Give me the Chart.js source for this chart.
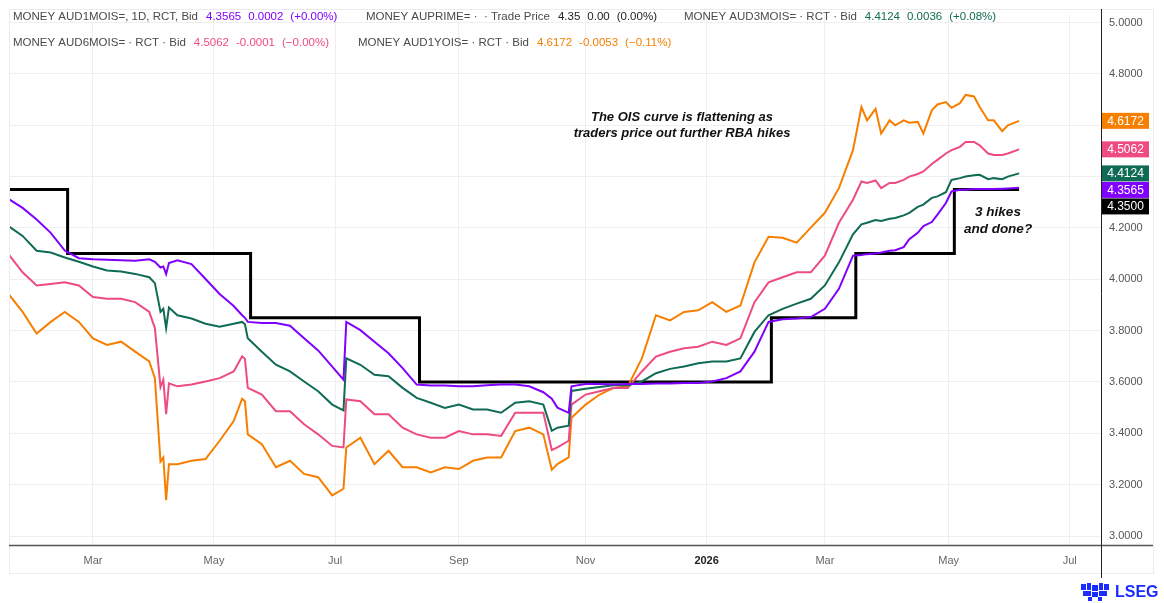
<!DOCTYPE html>
<html>
<head>
<meta charset="utf-8">
<script src="https://cdn.jsdelivr.net/npm/chart.js@4.4.1/dist/chart.umd.min.js"></script>
<style>
  html, body { margin: 0; padding: 0; background: #fff; }
  #wrap { position: relative; width: 1164px; height: 603px; }
  #logo { position: absolute; left: 1080px; top: 582px; }
</style>
</head>
<body>
<div id="wrap">
  <canvas id="myChart" width="1164" height="603"></canvas>
  <svg id="logo" width="30" height="20" viewBox="0 0 30 20">
    <g fill="#1a2cff">
      <rect x="1" y="2" width="5" height="6"/><rect x="7" y="1" width="4" height="7"/>
      <rect x="12" y="3" width="6" height="6"/><rect x="19" y="1" width="4" height="7"/>
      <rect x="24" y="2" width="5" height="6"/><rect x="3" y="9" width="8" height="5"/>
      <rect x="12" y="10" width="6" height="5"/><rect x="19" y="9" width="8" height="5"/>
      <rect x="8" y="15" width="4" height="4"/><rect x="18" y="15" width="4" height="4"/>
    </g>
  </svg>
</div>
<script>
'use strict'

// weekly samples (plus extra days around the big moves and in the last stretch)
let dates = ['2025-01-20', '2025-01-27', '2025-02-03', '2025-02-10', '2025-02-17', '2025-02-24',
    '2025-03-03', '2025-03-10', '2025-03-17', '2025-03-24', '2025-03-31', '2025-04-02', '2025-04-04',
    '2025-04-07', '2025-04-08', '2025-04-09', '2025-04-14', '2025-04-21', '2025-04-28', '2025-05-05',
    '2025-05-12', '2025-05-15', '2025-05-16', '2025-05-19', '2025-05-26', '2025-06-02', '2025-06-09',
    '2025-06-16', '2025-06-23', '2025-06-30', '2025-07-04', '2025-07-07', '2025-07-14', '2025-07-21',
    '2025-07-28', '2025-08-04', '2025-08-11', '2025-08-18', '2025-08-25', '2025-09-01', '2025-09-08',
    '2025-09-15', '2025-09-22', '2025-09-29', '2025-10-06', '2025-10-13', '2025-10-16', '2025-10-20',
    '2025-10-24', '2025-10-27', '2025-11-03', '2025-11-10', '2025-11-17', '2025-11-24', '2025-12-01',
    '2025-12-08', '2025-12-15', '2025-12-22', '2025-12-29', '2026-01-05', '2026-01-12', '2026-01-19',
    '2026-01-26', '2026-02-02', '2026-02-09', '2026-02-16', '2026-02-23', '2026-03-02', '2026-03-09',
    '2026-03-16', '2026-03-19', '2026-03-23', '2026-03-26', '2026-03-30', '2026-04-02', '2026-04-06',
    '2026-04-09', '2026-04-13', '2026-04-16', '2026-04-20', '2026-04-23', '2026-04-27', '2026-04-30',
    '2026-05-04', '2026-05-07', '2026-05-11', '2026-05-14', '2026-05-18', '2026-05-21', '2026-05-25',
    '2026-05-28', '2026-06-01', '2026-06-05'];

let aud1m = [4.313, 4.278, 4.233, 4.181, 4.112, 4.082, 4.078, 4.076, 4.074, 4.072, 4.078, 4.068, 4.046,
    4.050, 4.020, 4.063, 4.074, 4.059, 4.001, 3.943, 3.896, 3.860, 3.850, 3.834, 3.830, 3.830, 3.819,
    3.770, 3.723, 3.660, 3.609, 3.834, 3.802, 3.757, 3.712, 3.654, 3.590, 3.586, 3.586, 3.583, 3.583,
    3.587, 3.590, 3.590, 3.583, 3.560, 3.535, 3.500, 3.480, 3.583, 3.592, 3.592, 3.590, 3.592, 3.592,
    3.594, 3.594, 3.596, 3.596, 3.602, 3.615, 3.641, 3.718, 3.834, 3.844, 3.847, 3.853, 3.885, 3.963,
    4.092, 4.095, 4.098, 4.100, 4.104, 4.111, 4.113,
    4.125, 4.156, 4.181, 4.207, 4.223, 4.252, 4.297,
    4.342, 4.349, 4.349, 4.352, 4.352, 4.352, 4.352,
    4.353, 4.354, 4.3565];

let aud3m = [4.207, 4.169, 4.111, 4.104, 4.085, 4.068, 4.050, 4.034, 4.030, 4.021, 4.008, 3.985, 3.873,
    3.885, 3.810, 3.890, 3.860, 3.847, 3.827, 3.815, 3.827, 3.834, 3.825, 3.770, 3.718, 3.667, 3.641,
    3.602, 3.564, 3.512, 3.489, 3.692, 3.667, 3.628, 3.622, 3.577, 3.538, 3.519, 3.499, 3.512, 3.493,
    3.493, 3.480, 3.519, 3.525, 3.512, 3.410, 3.422, 3.430, 3.565, 3.574, 3.580, 3.587, 3.587, 3.602,
    3.634, 3.651, 3.660, 3.673, 3.680, 3.680, 3.692, 3.795, 3.860, 3.885, 3.905, 3.924, 3.976, 4.066,
    4.175, 4.214, 4.220, 4.231, 4.227, 4.236, 4.239,
    4.249, 4.259, 4.282, 4.291, 4.317, 4.323, 4.339,
    4.387, 4.394, 4.400, 4.405, 4.407, 4.390, 4.394,
    4.390, 4.400, 4.4124];

let aud6m = [4.098, 4.027, 3.976, 3.982, 3.988, 3.976, 3.931, 3.924, 3.924, 3.911, 3.873, 3.810, 3.580,
    3.609, 3.475, 3.595, 3.583, 3.590, 3.602, 3.615, 3.641, 3.700, 3.690, 3.577, 3.551, 3.486, 3.486,
    3.435, 3.396, 3.351, 3.345, 3.532, 3.525, 3.474, 3.474, 3.422, 3.396, 3.383, 3.383, 3.409, 3.396,
    3.396, 3.390, 3.480, 3.480, 3.480, 3.335, 3.345, 3.371, 3.512, 3.551, 3.564, 3.577, 3.577, 3.641,
    3.699, 3.718, 3.731, 3.737, 3.757, 3.744, 3.770, 3.911, 3.988, 4.008, 4.027, 4.027, 4.092, 4.220,
    4.310, 4.381, 4.375, 4.385, 4.355, 4.375, 4.375,
    4.387, 4.400, 4.410, 4.420, 4.449, 4.465, 4.490,
    4.503, 4.516, 4.535, 4.535, 4.522, 4.490, 4.484,
    4.484, 4.490, 4.5062];

let aud1y = [3.943, 3.873, 3.789, 3.834, 3.873, 3.834, 3.770, 3.744, 3.757, 3.718, 3.680, 3.615, 3.290,
    3.306, 3.140, 3.280, 3.280, 3.293, 3.300, 3.371, 3.448, 3.535, 3.525, 3.396, 3.358, 3.268, 3.293,
    3.242, 3.229, 3.158, 3.184, 3.345, 3.383, 3.280, 3.332, 3.268, 3.268, 3.248, 3.268, 3.261, 3.293,
    3.306, 3.306, 3.409, 3.422, 3.396, 3.258, 3.280, 3.306, 3.461, 3.512, 3.551, 3.577, 3.583, 3.692,
    3.860, 3.840, 3.873, 3.879, 3.911, 3.873, 3.898, 4.066, 4.166, 4.162, 4.143, 4.201, 4.259, 4.355,
    4.503, 4.671, 4.619, 4.664, 4.568, 4.619, 4.600,
    4.619, 4.610, 4.613, 4.568, 4.658, 4.681, 4.690,
    4.668, 4.686, 4.718, 4.712, 4.671, 4.619, 4.619,
    4.577, 4.600, 4.6172];

// RBA cash rate (AUPRIME) steps
let cashDates = ['2025-01-20', '2025-02-18', '2025-05-20', '2025-08-12', '2026-02-03', '2026-03-17', '2026-05-05', '2026-06-05'];
let cashRate = [4.35, 4.10, 3.85, 3.60, 3.85, 4.10, 4.35, 4.35];

let monthTicks = ['2025-03-01', '2025-05-01', '2025-07-01', '2025-09-01', '2025-11-01', '2026-01-01', '2026-03-01', '2026-05-01', '2026-07-01'];
let monthLabels = ['Mar', 'May', 'Jul', 'Sep', 'Nov', '2026', 'Mar', 'May', 'Jul'];
let yTicks = [3.0, 3.2, 3.4, 3.6, 3.8, 4.0, 4.2, 4.4, 4.6, 4.8, 5.0];

let purple = '#8000ff';
let green = '#0f6b55';
let pink = '#ee4b80';
let orange = '#f77f00';

// trading-day index counted from the first date
function bday(s) {
    let d0 = Date.UTC(2025, 0, 20);
    let p = s.split('-').map(Number);
    let t = Date.UTC(p[0], p[1] - 1, p[2]);
    let n = 0;
    for (let x = d0; x < t; x += 86400000) {
        let w = new Date(x).getUTCDay();
        if (w !== 0 && w !== 6) n++;
    }
    return n;
}

function pts(vals, ds) {
    return vals.map((v, i) => ({ x: bday(ds[i]), y: v }));
}

let tickPos = monthTicks.map(bday);

function line(label, vals, color) {
    return {
        label: label,
        data: pts(vals, dates),
        borderColor: color,
        borderWidth: 2,
        pointRadius: 0,
        tension: 0,
        fill: false
    };
}

let overlay = {
    id: 'overlay',
    afterDraw(chart) {
        let ctx = chart.ctx;
        let ys = chart.scales.y;
        ctx.save();

        // frame and axis lines
        ctx.strokeStyle = '#ececec';
        ctx.lineWidth = 1;
        ctx.strokeRect(9.5, 9.5, 1144, 564);
        ctx.strokeStyle = '#555';
        ctx.lineWidth = 1.5;
        ctx.beginPath();
        ctx.moveTo(9, 545.5);
        ctx.lineTo(1153, 545.5);
        ctx.stroke();
        ctx.strokeStyle = '#222';
        ctx.lineWidth = 1;
        ctx.beginPath();
        ctx.moveTo(1101.5, 9);
        ctx.lineTo(1101.5, 578);
        ctx.stroke();

        // legend rows
        ctx.textBaseline = 'middle';
        ctx.textAlign = 'left';
        ctx.font = '11.5px "Liberation Sans", Arial, sans-serif';
        let rows = [
            [13, 17, 'MONEY AUD1MOIS=, 1D, RCT, Bid', ['4.3565', '0.0002', '(+0.00%)'], purple],
            [366, 17, 'MONEY AUPRIME= \u00b7  \u00b7 Trade Price', ['4.35', '0.00', '(0.00%)'], '#222'],
            [684, 17, 'MONEY AUD3MOIS= \u00b7 RCT \u00b7 Bid', ['4.4124', '0.0036', '(+0.08%)'], green],
            [13, 43, 'MONEY AUD6MOIS= \u00b7 RCT \u00b7 Bid', ['4.5062', '-0.0001', '(\u22120.00%)'], pink],
            [358, 43, 'MONEY AUD1YOIS= \u00b7 RCT \u00b7 Bid', ['4.6172', '-0.0053', '(\u22120.11%)'], orange]
        ];
        rows.forEach(r => {
            let x = r[0];
            ctx.fillStyle = '#4a4a4a';
            ctx.fillText(r[2], x, r[1]);
            x += ctx.measureText(r[2]).width + 8;
            ctx.fillStyle = r[4];
            r[3].forEach(t => {
                ctx.fillText(t, x, r[1]);
                x += ctx.measureText(t).width + 7;
            });
        });

        // annotations
        ctx.fillStyle = '#111';
        ctx.textAlign = 'center';
        ctx.font = 'italic bold 13px "Liberation Sans", Arial, sans-serif';
        ctx.fillText('The OIS curve is flattening as', 682, 117);
        ctx.fillText('traders price out further RBA hikes', 682, 133);
        ctx.font = 'italic bold 13.5px "Liberation Sans", Arial, sans-serif';
        ctx.fillText('3 hikes', 998, 212);
        ctx.fillText('and done?', 998, 229);

        // last value boxes
        let boxes = [[4.6172, orange], [4.5062, pink], [4.4124, green], [4.3565, purple], [4.3500, '#000']];
        let prev = -100;
        ctx.font = '12px "Liberation Sans", Arial, sans-serif';
        ctx.textAlign = 'center';
        boxes.forEach(b => {
            let cy = Math.max(ys.getPixelForValue(b[0]), prev + 16.5);
            prev = cy;
            ctx.fillStyle = b[1];
            ctx.fillRect(1102, cy - 8, 47, 16);
            ctx.fillStyle = '#fff';
            ctx.fillText(b[0].toFixed(4), 1125.5, cy + 0.5);
        });

        // LSEG mark
        ctx.fillStyle = '#1a2cff';
        ctx.textAlign = 'left';
        ctx.font = 'bold 16px "Liberation Sans", Arial, sans-serif';
        ctx.fillText('LSEG', 1115, 593);
        ctx.restore();
    }
};

let ctx = document.getElementById('myChart').getContext('2d');
let myChart = new Chart(ctx, {
    type: 'line',
    data: {
        datasets: [
            line('MONEY AUD1MOIS=', aud1m, purple),
            line('MONEY AUD3MOIS=', aud3m, green),
            line('MONEY AUD6MOIS=', aud6m, pink),
            line('MONEY AUD1YOIS=', aud1y, orange),
            {
                label: 'MONEY AUPRIME=',
                data: pts(cashRate, cashDates),
                borderColor: '#000',
                borderWidth: 3,
                pointRadius: 0,
                stepped: true,
                fill: false
            }
        ]
    },
    options: {
        responsive: false,
        animation: false,
        layout: { padding: { left: 9, top: 10, right: 0, bottom: 30 } },
        plugins: { legend: { display: false }, tooltip: { enabled: false } },
        scales: {
            x: {
                type: 'linear',
                min: 0.178,
                max: 388.1,
                afterBuildTicks(scale) {
                    scale.ticks = tickPos.map(v => ({ value: v }));
                },
                afterFit(scale) { scale.height = 28; },
                grid: { color: '#efefef', drawTicks: false },
                border: { display: false },
                ticks: {
                    padding: 9,
                    maxRotation: 0,
                    autoSkip: false,
                    color: (c) => c.index === 5 ? '#222' : '#666',
                    font: (c) => ({ family: '"Liberation Sans", Arial, sans-serif', size: 11, weight: c.index === 5 ? 'bold' : 'normal' }),
                    callback: (v, i) => monthLabels[i]
                }
            },
            y: {
                type: 'linear',
                position: 'right',
                min: 2.965,
                max: 5.031,
                afterBuildTicks(scale) {
                    scale.ticks = yTicks.map(v => ({ value: v }));
                },
                afterFit(scale) { scale.width = 63; },
                grid: { color: '#efefef', drawTicks: false },
                border: { display: false },
                ticks: {
                    padding: 8,
                    color: '#555',
                    font: { family: '"Liberation Sans", Arial, sans-serif', size: 11 },
                    callback: (v) => v.toFixed(4)
                }
            }
        }
    },
    plugins: [overlay]
});
</script>
</body>
</html>
